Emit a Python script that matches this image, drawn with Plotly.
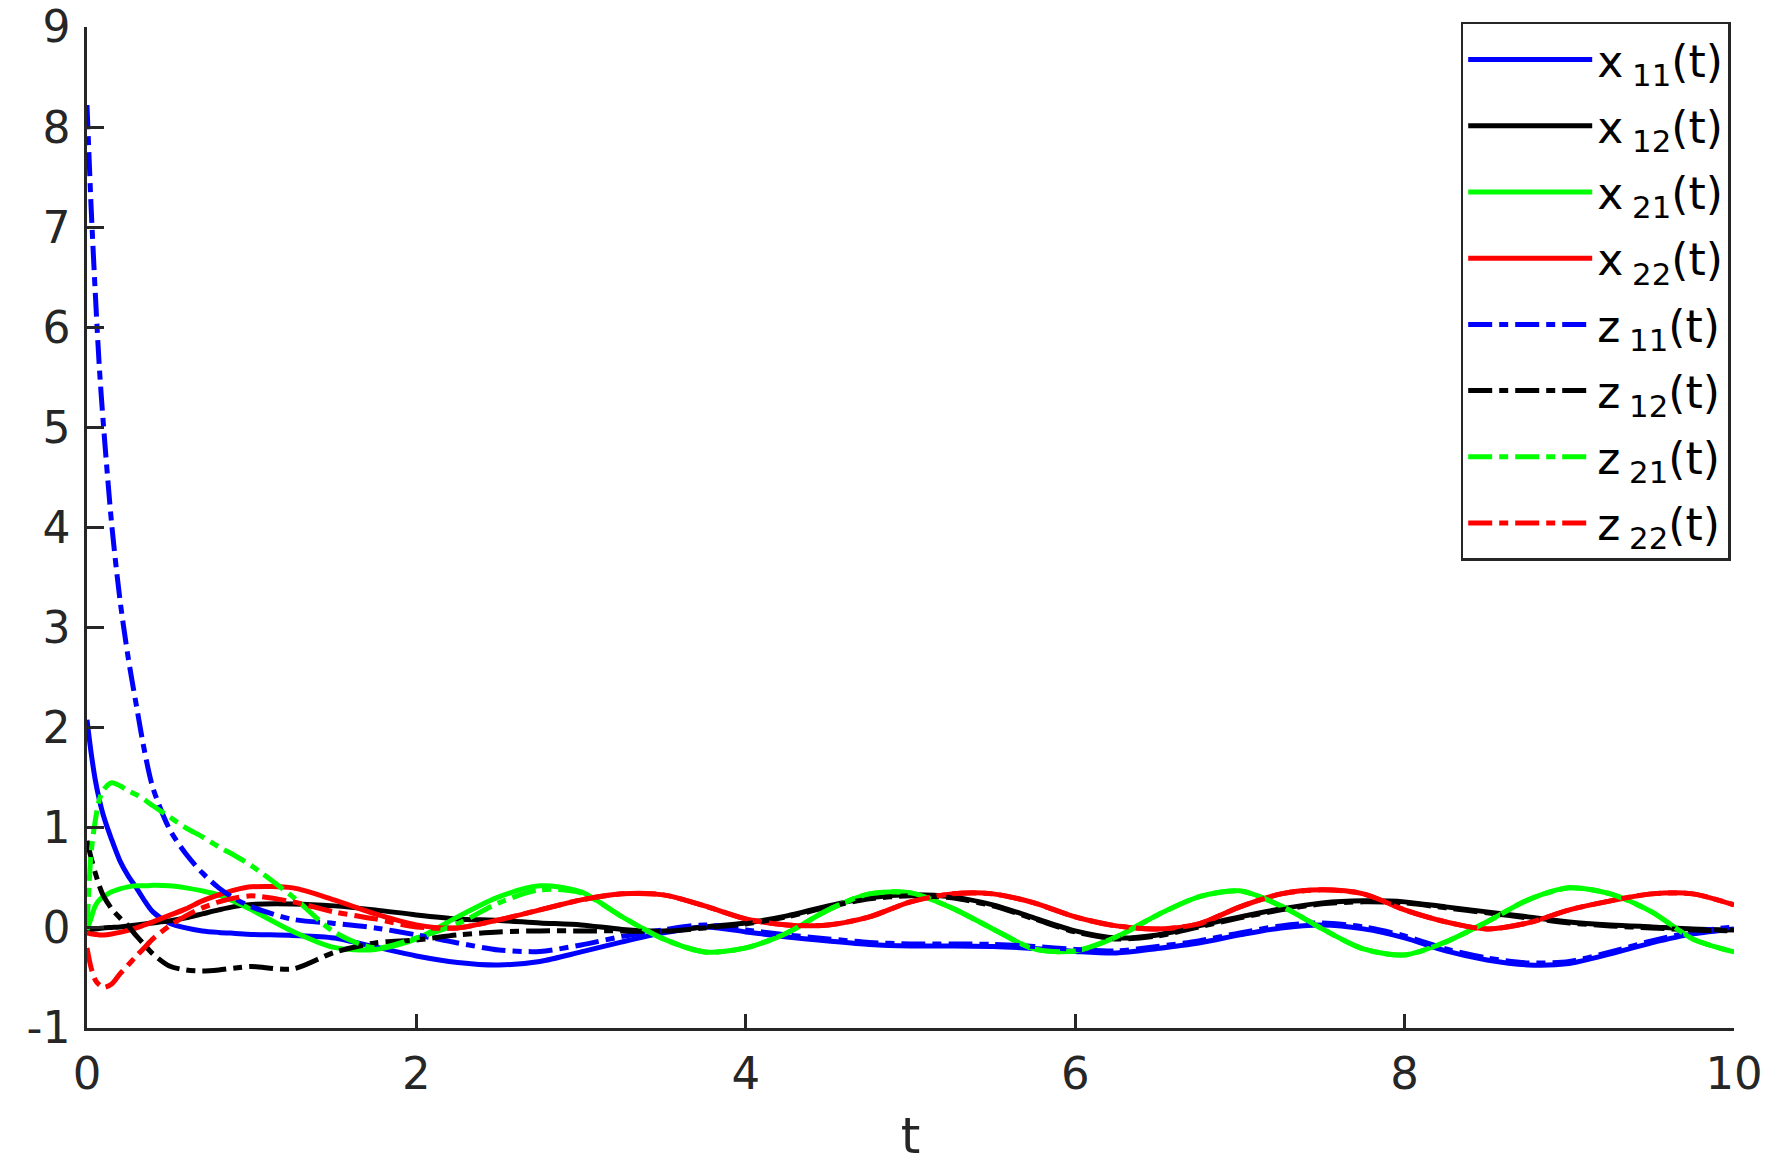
import plotly.graph_objects as go

# time grid (s)
t = [0, 0.025, 0.05, 0.075, 0.1, 0.15, 0.2, 0.25, 0.3, 0.35, 0.4, 0.5, 0.6, 0.7, 0.8, 0.9,
     1.0, 1.25, 1.5, 1.75, 2.0, 2.25, 2.5, 2.75, 3.0, 3.25, 3.5, 3.75, 4.0, 4.25, 4.5,
     4.75, 5.0, 5.25, 5.5, 5.75, 6.0, 6.25, 6.5, 6.75, 7.0, 7.25, 7.5, 7.75, 8.0, 8.25,
     8.5, 8.75, 9.0, 9.25, 9.5, 9.75, 10.0]

x11 = [2.08, 1.75, 1.48, 1.28, 1.12, 0.88, 0.67, 0.52, 0.40, 0.27, 0.16, 0.05, 0.0, -0.03, -0.045,
       -0.055, -0.065, -0.075, -0.10, -0.19, -0.28, -0.345, -0.37, -0.335, -0.24, -0.14, -0.05,
       0.01, -0.04, -0.09, -0.13, -0.165, -0.18, -0.18, -0.185, -0.205, -0.235, -0.25, -0.205,
       -0.15, -0.07, 0.0, 0.03, -0.01, -0.10, -0.23, -0.32, -0.37, -0.355, -0.26, -0.15, -0.06, -0.01]

x12 = [-0.02, -0.015, -0.01, -0.005, 0.0, 0.005, 0.01, 0.02, 0.03, 0.04, 0.05, 0.07, 0.10, 0.14, 0.18,
       0.215, 0.235, 0.24, 0.22, 0.18, 0.13, 0.09, 0.075, 0.05, 0.03, -0.015, -0.03, 0.01, 0.05,
       0.12, 0.22, 0.30, 0.33, 0.31, 0.23, 0.10, -0.03, -0.10, -0.07, 0.02, 0.11, 0.19, 0.25,
       0.27, 0.26, 0.21, 0.16, 0.11, 0.06, 0.03, 0.01, -0.01, -0.02]

x21 = [-0.02, 0.10, 0.22, 0.28, 0.31, 0.36, 0.39, 0.41, 0.42, 0.42, 0.425, 0.42, 0.40, 0.37, 0.33,
       0.26, 0.18, -0.035, -0.195, -0.215, -0.11, 0.11, 0.31, 0.42, 0.36, 0.11, -0.11, -0.24,
       -0.20, -0.05, 0.18, 0.34, 0.35, 0.20, -0.01, -0.21, -0.23, -0.09, 0.13, 0.31, 0.37, 0.22,
       -0.01, -0.21, -0.27, -0.14, 0.06, 0.28, 0.40, 0.34, 0.16, -0.11, -0.24]

x22 = [-0.05, -0.06, -0.065, -0.07, -0.07, -0.06, -0.045, -0.025, 0.0, 0.03, 0.06, 0.125, 0.19, 0.27,
       0.33, 0.38, 0.41, 0.40, 0.28, 0.14, 0.03, 0.0, 0.08, 0.18, 0.28, 0.34, 0.33, 0.22, 0.09,
       0.03, 0.03, 0.11, 0.26, 0.34, 0.34, 0.25, 0.11, 0.02, -0.01, 0.04, 0.21, 0.34, 0.38, 0.34,
       0.18, 0.06, -0.01, 0.05, 0.18, 0.27, 0.34, 0.34, 0.23]

z11 = [8.22, 7.2, 6.35, 5.6, 5.02, 4.03, 3.28, 2.7, 2.22, 1.76, 1.40, 0.99, 0.74, 0.55, 0.40, 0.29,
       0.21, 0.085, 0.045, 0.0, -0.07, -0.15, -0.22, -0.235, -0.17, -0.085, -0.02, 0.03, -0.02,
       -0.07, -0.11, -0.145, -0.16, -0.16, -0.165, -0.185, -0.215, -0.23, -0.185, -0.13, -0.05,
       0.02, 0.05, 0.01, -0.08, -0.21, -0.30, -0.35, -0.335, -0.24, -0.13, -0.04, 0.01]

z12 = [0.87, 0.70, 0.55, 0.42, 0.32, 0.19, 0.10, 0.02, -0.08, -0.17, -0.26, -0.38, -0.42, -0.43, -0.42,
       -0.40, -0.385, -0.41, -0.245, -0.15, -0.12, -0.07, -0.04, -0.03, -0.03, -0.03, -0.035, 0.0,
       0.04, 0.11, 0.21, 0.29, 0.32, 0.30, 0.22, 0.09, -0.04, -0.11, -0.08, 0.01, 0.10, 0.18,
       0.24, 0.26, 0.25, 0.20, 0.15, 0.10, 0.05, 0.02, 0.0, -0.02, -0.03]

z21 = [0.0, 0.75, 1.07, 1.28, 1.38, 1.45, 1.42, 1.37, 1.33, 1.28, 1.22, 1.11, 1.00, 0.91, 0.81, 0.72,
       0.62, 0.31, -0.04, -0.20, -0.10, 0.04, 0.25, 0.38, 0.35, 0.11, -0.11, -0.24, -0.20, -0.05,
       0.18, 0.34, 0.35, 0.20, -0.01, -0.21, -0.23, -0.09, 0.13, 0.31, 0.37, 0.22, -0.01, -0.21,
       -0.27, -0.14, 0.06, 0.28, 0.40, 0.34, 0.16, -0.11, -0.24]

z22 = [-0.20, -0.40, -0.52, -0.57, -0.595, -0.56, -0.46, -0.37, -0.28, -0.195, -0.11, 0.02, 0.12, 0.20,
       0.26, 0.30, 0.32, 0.26, 0.16, 0.09, 0.01, 0.0, 0.08, 0.18, 0.28, 0.34, 0.33, 0.22, 0.09,
       0.03, 0.03, 0.11, 0.26, 0.34, 0.34, 0.25, 0.11, 0.02, -0.01, 0.04, 0.21, 0.34, 0.38, 0.34,
       0.18, 0.06, -0.01, 0.05, 0.18, 0.27, 0.34, 0.34, 0.23]

DASHDOT = "24px,7px,9px,7px"
series = [
    ("x\u2009<sub>11</sub>(t)", x11, "#0000FF", "solid"),
    ("x\u2009<sub>12</sub>(t)", x12, "#000000", "solid"),
    ("x\u2009<sub>21</sub>(t)", x21, "#00FF00", "solid"),
    ("x\u2009<sub>22</sub>(t)", x22, "#FF0000", "solid"),
    ("z\u2009<sub>11</sub>(t)", z11, "#0000FF", DASHDOT),
    ("z\u2009<sub>12</sub>(t)", z12, "#000000", DASHDOT),
    ("z\u2009<sub>21</sub>(t)", z21, "#00FF00", DASHDOT),
    ("z\u2009<sub>22</sub>(t)", z22, "#FF0000", DASHDOT),
]

xticks = [0, 2, 4, 6, 8, 10]
xticktext = ["0", "2", "4", "6", "8", "10"]
yticks = [-1, 0, 1, 2, 3, 4, 5, 6, 7, 8, 9]
yticktext = ["-1", "0", "1", "2", "3", "4", "5", "6", "7", "8", "9"]

FONT = "DejaVu Sans, Liberation Sans, Arial, sans-serif"
AX = "#262626"

fig = go.Figure()
for i, (name, vals, color, dash) in enumerate(series):
    fig.add_trace(go.Scatter(
        x=t, y=vals, mode="lines", name=name, legendgroup=f"g{i}",
        line=dict(color=color, width=5, dash=dash, shape="spline", smoothing=0.8),
    ))

fig.update_layout(
    width=1776, height=1163,
    margin=dict(l=79, r=50, t=19, b=143, autoexpand=False),
    paper_bgcolor="white", plot_bgcolor="white",
    font=dict(family=FONT, color=AX),
    showlegend=True,
    legend=dict(
        x=0.998, xanchor="right", y=1.005, yanchor="top",
        bgcolor="white", bordercolor=AX, borderwidth=2.5,
        font=dict(family=FONT, size=44, color="black"),
        tracegroupgap=6, itemwidth=124,
    ),
    xaxis=dict(
        range=[0, 10], tickvals=xticks, ticktext=xticktext, showgrid=False, zeroline=False,
        showline=True, linecolor=AX, linewidth=2.5, mirror=False, automargin=False,
        ticks="inside", ticklen=14, tickwidth=2.5, tickcolor=AX, ticklabeloverflow="allow",
        tickfont=dict(size=45, color=AX, family=FONT), ticklabelstandoff=4,
        title=dict(text="t", font=dict(size=50, color=AX, family=FONT), standoff=20),
    ),
    yaxis=dict(
        range=[-1, 9], tickvals=yticks, ticktext=yticktext, showgrid=False, zeroline=False,
        showline=True, linecolor=AX, linewidth=2.5, mirror=False, automargin=False,
        ticks="inside", ticklen=17, tickwidth=2.5, tickcolor=AX, ticklabeloverflow="allow",
        tickfont=dict(size=44, color=AX, family=FONT), ticklabelstandoff=5,
    ),
)

fig.write_html("out.html")
